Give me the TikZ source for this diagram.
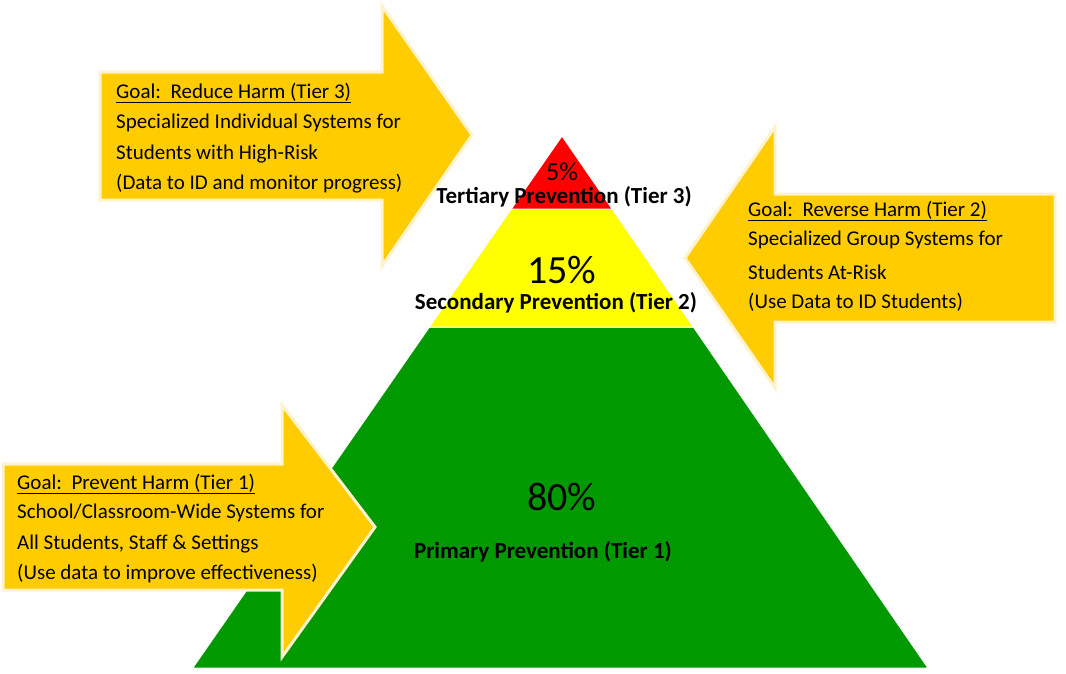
\documentclass[tikz,border=0pt]{standalone}
\usepackage{fontspec}
\setmainfont{Carlito}
\definecolor{tierred}{HTML}{FF0000}
\definecolor{tieryellow}{HTML}{FFFF00}
\definecolor{tiergreen}{HTML}{009900}
\definecolor{goalgold}{HTML}{FFCC00}
\definecolor{goaledge}{HTML}{FFF2CC}

\tikzset{
  goalarrow/.style={fill=goalgold,draw=goaledge,line width=3pt,line join=miter},
  goaltext/.style={anchor=west,inner sep=0pt,font=\fontsize{21}{24}\selectfont},
  band/.style={draw=white,line width=1pt},
  tierlabel/.style={inner sep=0pt,font=\fontsize{23}{26}\selectfont\bfseries},
  share/.style={inner sep=0pt,font=\fontsize{40}{44}\selectfont}
}

\begin{document}
\begin{tikzpicture}[x=1pt,y=-1pt]
  \useasboundingbox (0,0) rectangle (1066,673);
  % pyramid
  \fill[tiergreen,band] (429.4,327) -- (693.4,327) -- (928,668) -- (192.7,668) -- cycle;
  \fill[tieryellow,band] (511.3,209) -- (612.2,209) -- (693.4,327) -- (429.4,327) -- cycle;
  \fill[tierred,band] (562,136) -- (612.2,209) -- (511.3,209) -- cycle;
  \node[share,font=\fontsize{26}{30}\selectfont] (pct3) at (562,172) {5\%};
  \node[tierlabel] (tier3) at (564,197) {Tertiary Prevention (Tier 3)};
  \node[share] (pct2) at (562,270) {15\%};
  \node[tierlabel] (tier2) at (556,303) {Secondary Prevention (Tier 2)};
  \node[share] (pct1) at (562,497) {80\%};
  \node[tierlabel] (tier1) at (543,552) {Primary Prevention (Tier 1)};
  % goal arrows
  \draw[goalarrow] (100,72) -- (382,72) -- (382,6) -- (472,135) -- (382,266) -- (382,200) -- (100,200) -- cycle;
  \draw[goalarrow] (1055,194) -- (775,194) -- (775,127) -- (685,258) -- (775,388) -- (775,322) -- (1055,322) -- cycle;
  \draw[goalarrow] (3,464) -- (282,464) -- (282,405) -- (375,527) -- (282,657) -- (282,590) -- (3,590) -- cycle;
  % tier 3 goal
  \node[goaltext] (goal3) at (116,93) {\underline{Goal:\ \ Reduce Harm (Tier 3)}};
  \node[goaltext] (sys3) at (116,123) {Specialized Individual Systems for};
  \node[goaltext] (who3) at (116,154) {Students with High-Risk};
  \node[goaltext] (data3) at (116,184) {(Data to ID and monitor progress)};
  % tier 2 goal
  \node[goaltext] (goal2) at (748,211) {\underline{Goal:\ \ Reverse Harm (Tier 2)}};
  \node[goaltext] (sys2) at (748,240) {Specialized Group Systems for};
  \node[goaltext] (who2) at (748,272) {Students At-Risk};
  \node[goaltext] (data2) at (748,302) {(Use Data to ID Students)};
  % tier 1 goal
  \node[goaltext] (goal1) at (17,484) {\underline{Goal:\ \ Prevent Harm (Tier 1)}};
  \node[goaltext] (sys1) at (17,513) {School/Classroom-Wide Systems for};
  \node[goaltext] (who1) at (17,544) {All Students, Staff \& Settings};
  \node[goaltext] (data1) at (17,574) {(Use data to improve effectiveness)};
\end{tikzpicture}
\end{document}
